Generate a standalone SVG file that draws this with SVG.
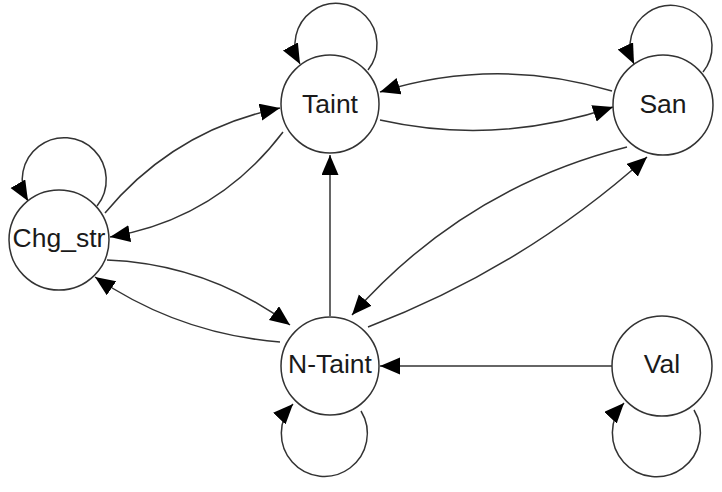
<svg xmlns="http://www.w3.org/2000/svg" width="722" height="492" viewBox="0 0 722 492">
<style>
.node circle{fill:#fff;stroke:#333;stroke-width:1.5}
.node text{font-family:"Liberation Sans",Arial,sans-serif;font-size:26.5px;fill:#1a1a1a;text-anchor:middle}
.edge{fill:none;stroke:#333;stroke-width:1.5;marker-end:url(#arr)}
</style>
<defs>
<marker id="arr" markerUnits="userSpaceOnUse" markerWidth="21" markerHeight="18" refX="20" refY="8.5" orient="auto" viewBox="0 0 21 18">
<path d="M0,0 L20,8.5 L0,17 z" fill="#000"/>
</marker>
</defs>
<g id="connectors">
<path class="edge" d="M368,70 A41,41 0 1 0 300,64"/>
<path class="edge" d="M703,72 A41,41 0 1 0 634,64"/>
<path class="edge" d="M97,206 A42,42 0 1 0 28,201"/>
<path class="edge" d="M361,411 A43,43 0 1 1 293,404"/>
<path class="edge" d="M694,410 A44,44 0 1 1 624,403"/>
<path class="edge" d="M105,213 Q174,130 280,108"/>
<path class="edge" d="M283,132 Q217,219 110,237"/>
<path class="edge" d="M380,120 Q496,146 613,107"/>
<path class="edge" d="M612,91 Q496,56 380,92"/>
<path class="edge" d="M107,260 Q208,264 290,325"/>
<path class="edge" d="M280,342 Q179,334 95,277"/>
<path class="edge" d="M627,147 Q464,188 352,315"/>
<path class="edge" d="M368,327 Q523,268 647,157"/>
<path class="edge" d="M330,316 L330,155"/>
<path class="edge" d="M612,366 L380,366"/>
</g>
<g id="node-taint" class="node"><circle cx="330" cy="104" r="49"/><text x="330" y="113">Taint</text></g>
<g id="node-san" class="node"><circle cx="663" cy="105" r="50"/><text x="663" y="113">San</text></g>
<g id="node-chg_str" class="node"><circle cx="59" cy="240" r="50"/><text x="59" y="247">Chg_str</text></g>
<g id="node-ntaint" class="node"><circle cx="330" cy="366" r="49"/><text x="330" y="373">N-Taint</text></g>
<g id="node-val" class="node"><circle cx="662" cy="366" r="50"/><text x="662" y="373">Val</text></g>
</svg>
